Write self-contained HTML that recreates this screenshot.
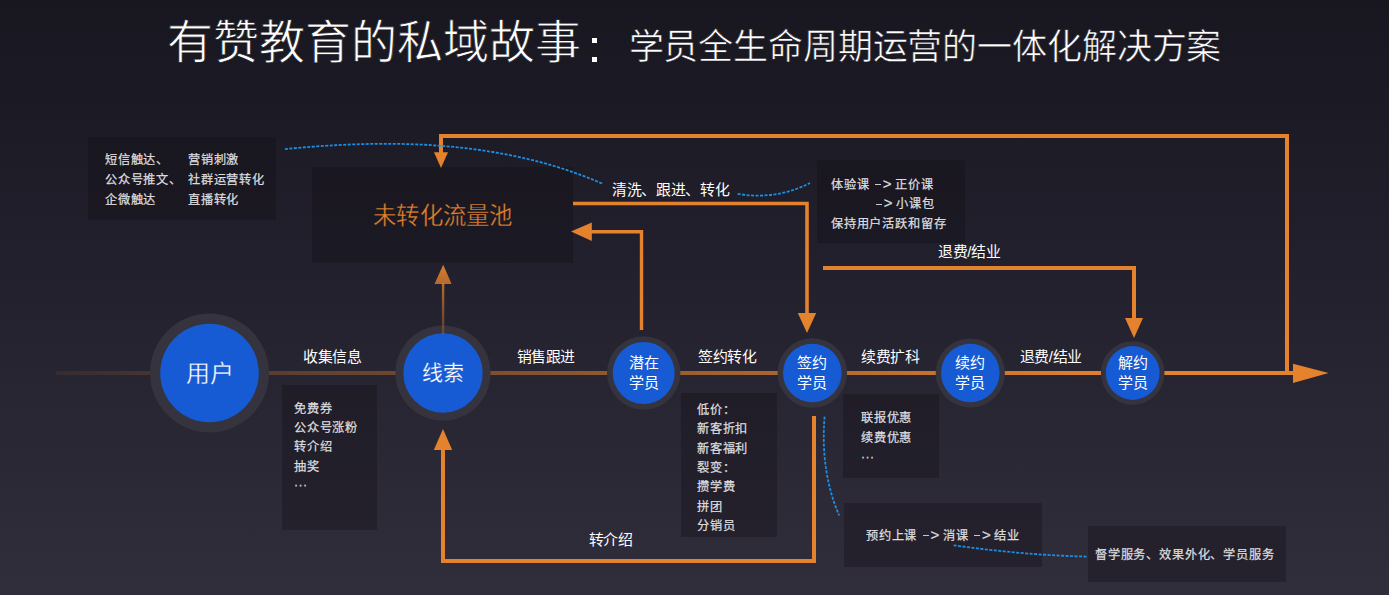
<!DOCTYPE html>
<html lang="zh-CN">
<head>
<meta charset="utf-8">
<style>
*{margin:0;padding:0;box-sizing:border-box}
html,body{width:1389px;height:595px;overflow:hidden}
body{font-family:"Liberation Sans",sans-serif;background:linear-gradient(180deg,#18161f 0%,#211f2b 40%,#312e3c 100%);position:relative;color:#fff}
.t{position:absolute;white-space:nowrap;line-height:1}
.box{position:absolute;background:rgba(14,13,18,0.32)}
.sm{font-size:12.2px;letter-spacing:0.83px;color:#dcdcdf;line-height:19.45px;-webkit-text-stroke:0.25px #dcdcdf}
.lbl{font-size:14.9px;letter-spacing:-0.35px;color:#fff;font-weight:500}
.cir{font-size:15px;color:#fff;text-align:center;line-height:20px}
svg{position:absolute;left:0;top:0}
.dots{letter-spacing:0.5px;position:relative;top:-1.5px}
.ar{display:inline-block;margin:0 3.6px 0 5.2px;letter-spacing:0}
.ar i{display:inline-block;width:6.1px;height:1px;background:#c8c8cc;vertical-align:middle;margin-right:2px;position:relative;top:-1px}
.ar b{font-weight:inherit;font-size:15px;line-height:1}
</style>
</head>
<body>
<!-- boxes -->
<div class="box" style="left:88px;top:137px;width:188px;height:82.5px"></div>
<div class="box" style="left:312px;top:167px;width:261px;height:96px"></div>
<div class="box" style="left:817px;top:160px;width:148px;height:83px"></div>
<div class="box" style="left:282px;top:385px;width:95px;height:145px"></div>
<div class="box" style="left:681px;top:392.5px;width:96px;height:144px"></div>
<div class="box" style="left:843px;top:394px;width:96px;height:83.5px"></div>
<div class="box" style="left:844px;top:503px;width:198px;height:64px"></div>
<div class="box" style="left:1088px;top:526px;width:198px;height:55.5px"></div>

<svg width="1389" height="595" viewBox="0 0 1389 595">
<defs>
<linearGradient id="lg" gradientUnits="userSpaceOnUse" x1="56" y1="0" x2="1130" y2="0">
<stop offset="0" stop-color="#e5822d" stop-opacity="0.08"/>
<stop offset="1" stop-color="#e5822d" stop-opacity="1"/>
</linearGradient>
<linearGradient id="vg" gradientUnits="userSpaceOnUse" x1="0" y1="334" x2="0" y2="264">
<stop offset="0" stop-color="#e5822d" stop-opacity="0.25"/>
<stop offset="1" stop-color="#e5822d" stop-opacity="0.95"/>
</linearGradient>
</defs>
<!-- main line -->
<rect x="56" y="371" width="1237" height="4" fill="url(#lg)"/>
<polygon points="1293,363.7 1328.6,373 1293,383" fill="#e5822d"/>
<!-- big top loop -->
<path d="M1287,373 V136 H441 V153" fill="none" stroke="#e5822d" stroke-width="4"/>
<polygon points="434,152.3 448,152.3 441,168" fill="#e5822d"/>
<!-- line from 未转化 to 签约 -->
<path d="M573,203.5 H807 V314" fill="none" stroke="#e5822d" stroke-width="3.6"/>
<polygon points="797.8,313 816.2,313 807,333" fill="#e5822d"/>
<!-- 潜在 back to 未转化 -->
<path d="M641.5,330 V231.8 H590" fill="none" stroke="#e5822d" stroke-width="3.4"/>
<polygon points="591.8,222.5 591.8,241 571,231.5" fill="#e5822d"/>
<!-- 线索 up to 未转化 (faded) -->

<!-- 退费/结业 line -->
<path d="M823,268 H1134 V319" fill="none" stroke="#e5822d" stroke-width="4"/>
<polygon points="1125,318 1143,318 1134,338" fill="#e5822d"/>
<!-- bottom loop -->
<path d="M814,416 V561 H443 V449" fill="none" stroke="#e5822d" stroke-width="4"/>
<polygon points="433.8,450 452.2,450 443,429" fill="#e5822d"/>

<!-- circles -->
<g>
<circle cx="209.5" cy="373" r="59.5" fill="#35333e"/>
<circle cx="209.5" cy="373" r="49.3" fill="#165ad4"/>
<circle cx="443" cy="373" r="47.6" fill="#35333e"/>
<circle cx="443" cy="373" r="39.7" fill="#165ad4"/>
<circle cx="643.7" cy="373" r="36.7" fill="#35333e"/>
<circle cx="643.7" cy="373" r="31" fill="#165ad4"/>
<circle cx="812.3" cy="373" r="34.8" fill="#35333e"/>
<circle cx="812.3" cy="373" r="29.3" fill="#165ad4"/>
<circle cx="970.3" cy="373" r="34.6" fill="#35333e"/>
<circle cx="970.3" cy="373" r="29.3" fill="#165ad4"/>
<circle cx="1132.7" cy="373" r="31.8" fill="#35333e"/>
<circle cx="1132.7" cy="373" r="26.9" fill="#165ad4"/>
</g>

<rect x="441.9" y="283" width="2.4" height="51" fill="url(#vg)"/>
<polygon points="434.5,284 451.6,284 443.2,264.7" fill="url(#vg)"/>
<!-- blue dashed curves -->
<g fill="none" stroke="#1a8fe6" stroke-width="1.8" stroke-dasharray="3 1.5">
<path d="M284.9,149.1 C391.3,138.7 503.3,140.4 602.8,183.8"/>
<path d="M737.6,193.8 C762.7,198.2 787.2,194.6 810.0,183.0"/>
<path d="M824.6,416.6 C821.8,450.2 825.7,484.4 839.2,515.5"/>
<path d="M953.6,545.3 C998.0,551.4 1042.7,555.7 1087.5,556.6"/>
</g>
</svg>

<!-- title -->
<div class="t" style="left:167px;top:18.6px;font-size:46px;-webkit-text-stroke:0.8px #1a1823">有赞教育的私域故事</div>
<div style="position:absolute;left:591.8px;top:37.5px;width:5.3px;height:5.3px;background:#fff"></div>
<div style="position:absolute;left:591.8px;top:56.5px;width:5.3px;height:5.3px;background:#fff"></div>
<div class="t" style="left:628.5px;top:29.3px;font-size:35px;letter-spacing:-0.13px;-webkit-text-stroke:0.6px #1b1925">学员全生命周期运营的一体化解决方案</div>

<!-- box texts -->
<div class="t sm" style="left:105px;top:151.1px;line-height:19.7px">短信触达、<br>公众号推文、<br>企微触达</div>
<div class="t sm" style="left:188px;top:151.1px;line-height:19.7px">营销刺激<br>社群运营转化<br>直播转化</div>
<div class="t" style="left:373px;top:204.5px;font-size:23.4px;letter-spacing:0.3px;color:#e5822d;-webkit-text-stroke:0.35px #1b1922">未转化流量池</div>
<div class="t sm" style="left:831px;top:176px">体验课<span class="ar"><i></i><b>&gt;</b></span>正价课<br><span style="padding-left:39.5px"><span class="ar"><i></i><b>&gt;</b></span>小课包</span><br>保持用户活跃和留存</div>
<div class="t sm" style="left:294px;top:399.5px">免费券<br>公众号涨粉<br>转介绍<br>抽奖<br><span class="dots">···</span></div>
<div class="t sm" style="left:697px;top:400.6px">低价：<br>新客折扣<br>新客福利<br>裂变：<br>攒学费<br>拼团<br>分销员</div>
<div class="t sm" style="left:861px;top:408.3px;line-height:20px">联报优惠<br>续费优惠<br><span class="dots">···</span></div>
<div class="t sm" style="left:866px;top:527.2px">预约上课<span class="ar"><i></i><b>&gt;</b></span>消课<span class="ar"><i></i><b>&gt;</b></span>结业</div>
<div class="t sm" style="left:1095px;top:546.1px">督学服务、效果外化、学员服务</div>

<!-- edge labels -->
<div class="t lbl" style="left:303px;top:349.7px">收集信息</div>
<div class="t lbl" style="left:516.5px;top:349.7px">销售跟进</div>
<div class="t lbl" style="left:698px;top:349.7px">签约转化</div>
<div class="t lbl" style="left:861px;top:349.7px">续费扩科</div>
<div class="t lbl" style="left:1019.5px;top:349.7px">退费/结业</div>
<div class="t lbl" style="left:938px;top:244.7px">退费/结业</div>
<div class="t lbl" style="left:612px;top:182.7px">清洗、跟进、转化</div>
<div class="t lbl" style="left:588.5px;top:532.7px">转介绍</div>

<!-- circle labels -->
<div class="t" style="left:159.5px;top:362px;width:100px;text-align:center;font-size:24px;-webkit-text-stroke:0.35px #165ad4">用户</div>
<div class="t" style="left:403px;top:362px;width:80px;text-align:center;font-size:21px;-webkit-text-stroke:0.2px #165ad4">线索</div>
<div class="t cir" style="left:613.7px;top:353px;width:60px">潜在<br>学员</div>
<div class="t cir" style="left:782.3px;top:353px;width:60px">签约<br>学员</div>
<div class="t cir" style="left:940.3px;top:353px;width:60px">续约<br>学员</div>
<div class="t cir" style="left:1102.7px;top:353px;width:60px">解约<br>学员</div>
</body>
</html>
